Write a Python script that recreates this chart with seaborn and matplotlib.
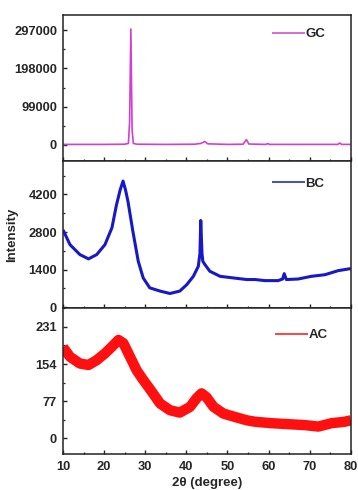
import matplotlib
matplotlib.use("Agg")
import matplotlib.pyplot as plt
from matplotlib.ticker import MultipleLocator
import seaborn as sns
import pandas as pd

# ---- data ----
GC_2theta = [10, 20, 25, 25.9, 26.2, 26.5, 26.8, 27.1, 28, 35, 42, 43.5, 44.5, 45.2,
             50, 53.8, 54.6, 55.2, 59.3, 59.8, 60.3, 70, 76.8, 77.3, 77.8, 80]
GC_int = [1500, 1500, 2000, 4000, 60000, 300000, 40000, 4000, 2000, 1500, 2000, 4000,
          9000, 3000, 1500, 2000, 14000, 2500, 1500, 3500, 1500, 1500, 1500, 5000, 1500, 1500]

BC_2theta = [10, 11.7, 14.1, 16.2, 18.2, 20.2, 21.9, 23.0, 23.9, 24.6, 25.2, 25.8, 27.0,
             28.3, 29.5, 31.1, 33.6, 36.0, 38.4, 40.1, 41.7, 42.9, 43.3, 43.5, 43.8, 44.0,
             44.5, 45.7, 48.2, 51.4, 54.7, 56.7, 59.1, 62.3, 63.4, 63.8, 64.3, 67.2, 70.4,
             73.7, 76.9, 80]
BC_int = [2880, 2330, 1960, 1800, 1960, 2330, 2960, 3810, 4370, 4700, 4370, 3940, 2820,
          1710, 1090, 720, 600, 510, 600, 840, 1150, 1520, 2000, 3230, 2000, 1710,
          1590, 1340, 1150, 1090, 1030, 1030, 990, 990, 1050, 1250, 1030, 1050, 1150,
          1210, 1360, 1440]

AC_2theta = [10, 11.7, 14.1, 16.2, 18.2, 20.2, 21.9, 23.5, 24.7, 26.3, 27.9, 29.5, 31.3,
             33.6, 36.0, 38.4, 40.9, 42.5, 43.7, 44.9, 46.6, 49.0, 52.2, 54.7, 56.7, 60.7,
             64.8, 68.8, 72.1, 75.3, 78.5, 80]
AC_int = [189, 169, 155, 152, 162, 176, 190, 204, 197, 169, 141, 121, 100, 72, 58, 53,
          65, 83, 93, 85, 65, 51, 43, 37, 34, 31, 29, 27, 24, 31, 34, 37]

series_names = ["GC", "BC", "AC"]
colors = ["#D040D0", "#1818C8", "#FF1010"]
y_ticks = [[0, 99000, 198000, 297000], [0, 1400, 2800, 4200], [0, 77, 154, 231]]
x_ticks = [10, 20, 30, 40, 50, 60, 70, 80]

# ---- styling ----
sns.set_style("ticks")
plt.rcParams["font.family"] = ["Liberation Sans", "DejaVu Sans"]
plt.rcParams["font.weight"] = "bold"

fig, axes = plt.subplots(3, 1, figsize=(3.58, 4.9), dpi=100, sharex=True)
fig.subplots_adjust(left=0.176, right=0.980, top=0.969, bottom=0.0735, hspace=0)

data = [(GC_2theta, GC_int), (BC_2theta, BC_int), (AC_2theta, AC_int)]
lws = [1.2, 2.2, 7.5]
ylims = [(-42600, 335700), (-20, 5430), (-33, 271)]
minor_y = [49500, 700, 38.5]
leg_anchor = [(0.726, 0.870), (0.725, 0.846), (0.738, 0.813)]

for i, ax in enumerate(axes):
    x, y = data[i]
    df = pd.DataFrame({"2theta": x, "I": y})
    sns.lineplot(data=df, x="2theta", y="I", ax=ax, color=colors[i], lw=lws[i],
                 label=series_names[i], sort=False, solid_joinstyle="round",
                 solid_capstyle="butt")
    ax.set_xlim(10, 80)
    ax.set_ylim(*ylims[i])
    ax.set_yticks(y_ticks[i])
    ax.set_yticklabels([str(v) for v in y_ticks[i]])
    ax.yaxis.set_minor_locator(MultipleLocator(minor_y[i]))
    ax.set_xticks(x_ticks)
    ax.xaxis.set_minor_locator(MultipleLocator(5))
    ax.tick_params(axis="both", which="major", direction="in", length=2.6, width=1.0,
                   labelsize=9.3, pad=4.3)
    ax.tick_params(axis="both", which="minor", direction="in", length=1.6, width=0.9)
    for lab in ax.get_yticklabels() + ax.get_xticklabels():
        lab.set_fontweight("bold")
    for sp in ax.spines.values():
        sp.set_visible(True)
        sp.set_linewidth(1.1)
        sp.set_color("#222222")
    ax.set_xlabel("")
    ax.set_ylabel("")
    leg = ax.legend(loc="center left", bbox_to_anchor=leg_anchor[i], frameon=False,
                    handlelength=2.5, handletextpad=0.05, borderpad=0, borderaxespad=0,
                    prop={"weight": "bold", "size": 9.5})
    for ln in leg.get_lines():
        ln.set_linewidth(1.1)

axes[2].tick_params(axis="x", labelsize=9.3, pad=5)
axes[0].tick_params(axis="x", labelbottom=False)
axes[1].tick_params(axis="x", labelbottom=False)

axes[1].set_ylabel("Intensity", fontsize=9.5, fontweight="bold")
axes[1].yaxis.set_label_coords(-0.156, 0.5)
axes[2].set_xlabel("2θ (degree)", fontsize=9.5, fontweight="bold")
axes[2].xaxis.set_label_coords(0.5, -0.155)

fig.savefig("out.png", dpi=100)
